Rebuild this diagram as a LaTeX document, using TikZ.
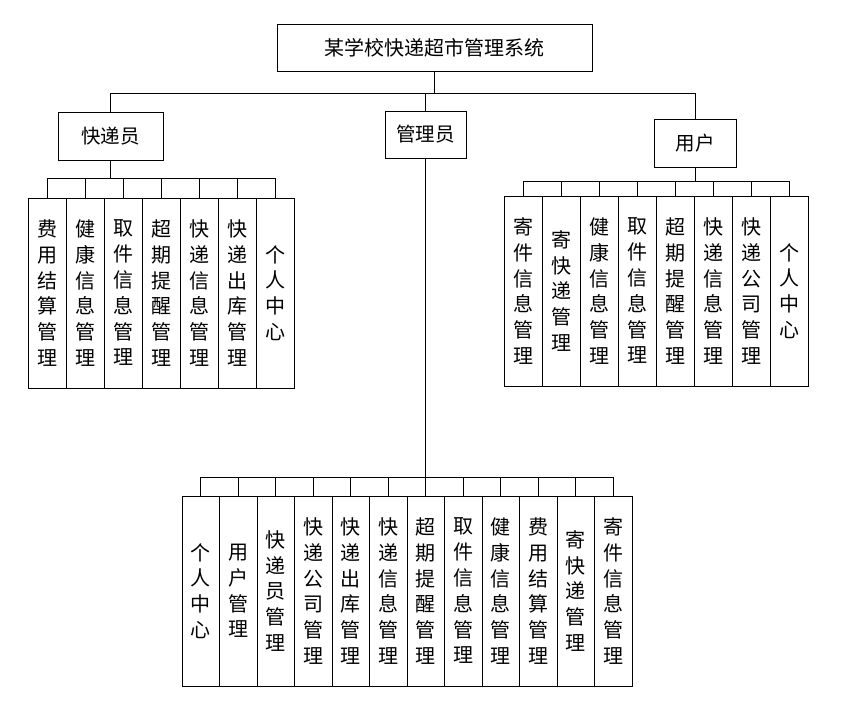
\documentclass[tikz,border=0pt]{standalone}
\usepackage{fontspec}
\setmainfont{Noto Sans CJK SC}

\begin{document}
\begin{tikzpicture}[x=1pt,y=-1pt,
  box/.style={draw, line width=0.8pt, inner sep=0pt},
  leaf/.style={box, minimum width=37.5pt, minimum height=190pt, align=center,
    font={\fontsize{20}{25.8}\selectfont}},
  line/.style={line width=0.8pt}]

\useasboundingbox (0,0) rectangle (844,704);

% top and second level
\node[box, minimum width=315pt, minimum height=47pt, font={\fontsize{20}{22}\selectfont}] (sys) at (434.5,47.5) {某学校快递超市管理系统};
\node[box, minimum width=105pt, minimum height=48pt, font={\fontsize{19.5}{22}\selectfont}] (kdy) at (110.5,136) {快递员};
\node[box, minimum width=81pt, minimum height=47pt, font={\fontsize{19.5}{22}\selectfont}] (gly) at (425.5,134.5) {管理员};
\node[box, minimum width=82pt, minimum height=48pt, font={\fontsize{19.5}{22}\selectfont}] (yh) at (695,143) {用户};

\coordinate (b0) at (434.5,93);
\coordinate (b1) at (110.5,178);
\coordinate (b2) at (695,181);
\coordinate (b3) at (425.5,477);

\draw[line] (sys) -- (b0);
\draw[line] (b0) -| (kdy.north);
\draw[line] (b0) -| (gly.north);
\draw[line] (b0) -| (yh.north);

% courier
\foreach \t [count=\i] in {费\\用\\结\\算\\管\\理, 健\\康\\信\\息\\管\\理, 取\\件\\信\\息\\管\\理,
  超\\期\\提\\醒\\管\\理, 快\\递\\信\\息\\管\\理, 快\\递\\出\\库\\管\\理, 个\\人\\中\\心}
  \node[leaf, minimum width=38pt] (k\i) at ({47+38*(\i-1)},293) {\t};
\draw[line] (kdy) -- (b1);
\foreach \i in {1,...,7}
  \draw[line] (b1) -| (k\i.north);

% user
\foreach \t [count=\i] in {寄\\件\\信\\息\\管\\理, 寄\\快\\递\\管\\理, 健\\康\\信\\息\\管\\理, 取\\件\\信\\息\\管\\理,
  超\\期\\提\\醒\\管\\理, 快\\递\\信\\息\\管\\理, 快\\递\\公\\司\\管\\理, 个\\人\\中\\心}
  \node[leaf, minimum width=38pt] (u\i) at ({523+38*(\i-1)},291) {\t};
\draw[line] (yh) -- (b2);
\foreach \i in {1,...,8}
  \draw[line] (b2) -| (u\i.north);

% admin
\foreach \t [count=\i] in {个\\人\\中\\心, 用\\户\\管\\理, 快\\递\\员\\管\\理, 快\\递\\公\\司\\管\\理,
  快\\递\\出\\库\\管\\理, 快\\递\\信\\息\\管\\理, 超\\期\\提\\醒\\管\\理, 取\\件\\信\\息\\管\\理,
  健\\康\\信\\息\\管\\理, 费\\用\\结\\算\\管\\理, 寄\\快\\递\\管\\理, 寄\\件\\信\\息\\管\\理}
  \node[leaf] (a\i) at ({200.75+37.5*(\i-1)},591) {\t};
\draw[line] (gly) -- (b3);
\foreach \i in {1,...,12}
  \draw[line] (b3) -| (a\i.north);

\end{tikzpicture}
\end{document}
